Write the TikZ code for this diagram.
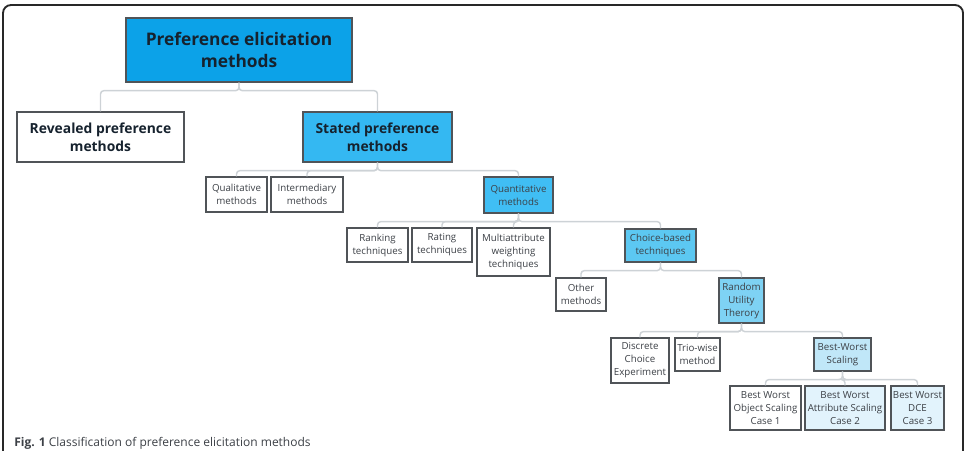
\documentclass[tikz,border=0pt]{standalone}
\usepackage{fontspec}
\setmainfont{Open Sans}
\usetikzlibrary{positioning}

\definecolor{boxline}{RGB}{80,84,88}
\definecolor{linkgray}{RGB}{205,210,214}
\definecolor{smalltext}{RGB}{60,64,70}
\definecolor{bigtext}{RGB}{22,34,46}
\definecolor{framecol}{RGB}{40,40,40}
\definecolor{rootblue}{RGB}{12,162,232}
\definecolor{statedblue}{RGB}{52,184,242}
\definecolor{quantblue}{RGB}{64,190,244}
\definecolor{choiceblue}{RGB}{92,200,242}
\definecolor{rutblue}{RGB}{126,210,244}
\definecolor{bwsblue}{RGB}{192,231,248}
\definecolor{paleblue}{RGB}{226,243,252}

\begin{document}
\begin{tikzpicture}[
    x=0.75pt, y=-0.75pt,
    box/.style={draw=boxline, line width=0.9pt, inner sep=0pt, align=center,
        text=smalltext, font=\fontsize{7.3}{9.75}\selectfont},
    bigbox/.style={box, line width=1pt, text=bigtext,
        font=\fontsize{10.4}{13.5}\selectfont\bfseries},
    link/.style={draw=linkgray, line width=1.1pt, rounded corners=2.5pt}
]
\useasboundingbox (0,0) rectangle (967,450);

% outer frame, cut off at the bottom
\draw[draw=framecol, line width=1.4pt, rounded corners=6pt] (3,5) rectangle (963,490);

% --- Top levels ---
\node[bigbox, fill=rootblue, minimum width=169.5pt, minimum height=48pt, font=\fontsize{13}{17}\selectfont\bfseries] (root) at (239,50) {Preference elicitation\\methods};
\node[bigbox, minimum width=125.25pt, minimum height=37.5pt] (revealed) at (100.5,137) {Revealed preference\\methods};
\node[bigbox, fill=statedblue, minimum width=111.75pt, minimum height=37.5pt] (stated) at (377.5,137) {Stated preference\\methods};

\draw[link] (root.south) -- ++(0,8) -| (revealed.north);
\draw[link] (root.south) -- ++(0,8) -| (stated.north);

% --- Stated preference methods ---
\node[box, minimum width=45.75pt, minimum height=26.25pt] (qual) at (236.5,194.5) {Qualitative\\methods};
\node[box, minimum width=54pt, minimum height=26.25pt] (inter) at (307,194.5) {Intermediary\\methods};
\node[box, fill=quantblue, minimum width=51.75pt, minimum height=27pt] (quant) at (518.5,195) {Quantitative\\methods};

\foreach \child in {qual, inter, quant}
    \draw[link] (stated.south) -- ++(0,8) -| (\child.north);

% --- Quantitative methods ---
\node[box, minimum width=45.75pt, minimum height=25.5pt] (rank) at (377.5,245) {Ranking\\techniques};
\node[box, minimum width=45pt, minimum height=25.5pt] (rate) at (442,245) {Rating\\techniques};
\node[box, minimum width=54.75pt, minimum height=36pt] (multi) at (513.5,252) {Multiattribute\\weighting\\techniques};
\node[box, fill=choiceblue, minimum width=53.25pt, minimum height=24.75pt] (choice) at (660.5,245.5) {Choice-based\\techniques};

\foreach \child in {rank, rate, multi, choice}
    \draw[link] (quant.south) -- ++(0,8) -| (\child.north);

% --- Choice-based techniques ---
\node[box, minimum width=37.5pt, minimum height=24.75pt] (other) at (581,294.5) {Other\\methods};
\node[box, fill=rutblue, minimum width=33.75pt, minimum height=33.75pt] (rut) at (741.5,300.5) {Random\\Utility\\Therory};

\foreach \child in {other, rut}
    \draw[link] (choice.south) -- ++(0,8) -| (\child.north);

% --- Random Utility Theory ---
\node[box, minimum width=43.5pt, minimum height=33.75pt] (dce) at (640,360.5) {Discrete\\Choice\\Experiment};
\node[box, minimum width=33.75pt, minimum height=24.75pt] (trio) at (697.5,354.5) {Trio-wise\\method};
\node[box, fill=bwsblue, minimum width=42.75pt, minimum height=24.75pt] (bws) at (842.5,354.5) {Best-Worst\\Scaling};

\foreach \child in {dce, trio, bws}
    \draw[link] (rut.south) -- ++(0,8) -| (\child.north);

% --- Best-Worst Scaling cases ---
\node[box, minimum width=53.25pt, minimum height=33pt] (case1) at (765.5,408) {Best Worst\\Object Scaling\\Case 1};
\node[box, fill=paleblue, minimum width=60pt, minimum height=33pt] (case2) at (845,408) {Best Worst\\Attribute Scaling\\Case 2};
\node[box, fill=paleblue, minimum width=39.75pt, minimum height=33pt] (case3) at (917.5,408) {Best Worst\\DCE\\Case 3};

\foreach \child in {case1, case2, case3}
    \draw[link] (bws.south) -- ++(0,8) -| (\child.north);

% caption at the bottom edge
\node[anchor=base west, inner sep=0pt, text=smalltext, font=\fontsize{9}{11}\selectfont] (caption) at (14,446) {\textbf{Fig. 1} Classification of preference elicitation methods};

\end{tikzpicture}
\end{document}
